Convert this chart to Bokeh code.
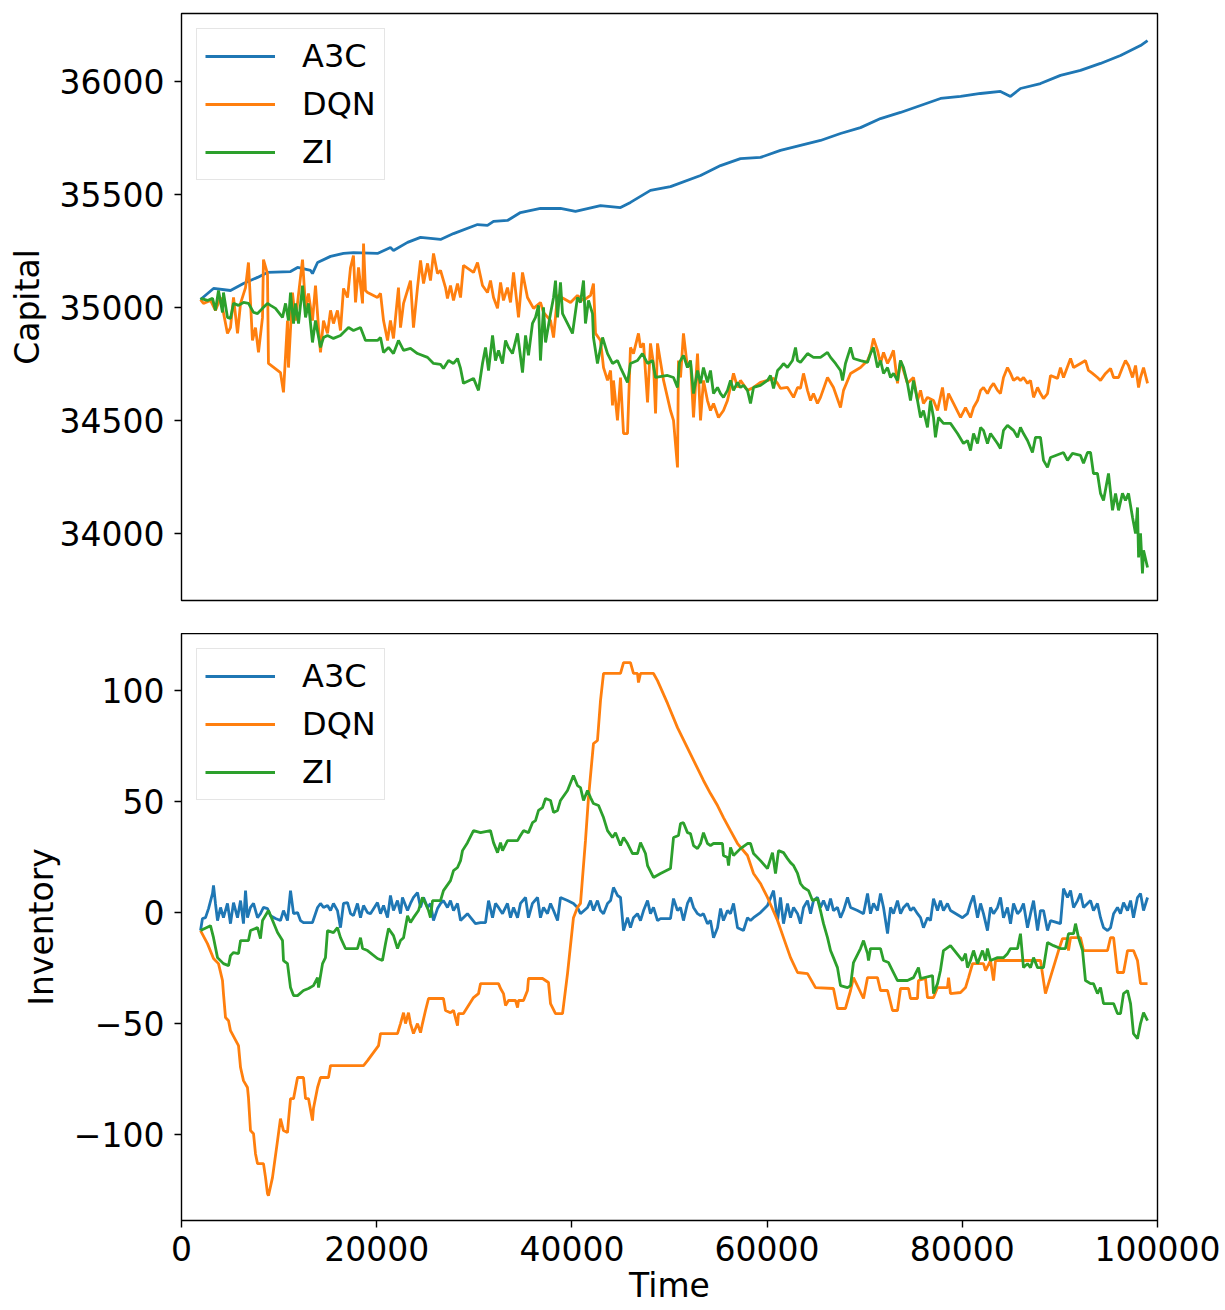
from bokeh.plotting import figure
from bokeh.layouts import column
from bokeh.models import FixedTicker, Range1d, Legend, LegendItem
from bokeh.embed import file_html
from bokeh.resources import INLINE

# ---------------- data (time, value) ----------------
series_names = ["A3C", "DQN", "ZI"]
series_colors = ["#1f77b4", "#ff7f0e", "#2ca02c"]

a3c_capital = [(1950,35035),(3280,35084),(5020,35075),(6350,35106),(7790,35133),(8810,35155),
    (11170,35159),(11890,35177),(13220,35164),(13420,35150),(13940,35199),(15270,35226),(16600,35239),
    (17620,35243),(20080,35239),(21410,35265),(21720,35252),(23160,35288),(24490,35310),(26540,35301),
    (27870,35327),(30330,35367),(31350,35363),(31970,35381),(33400,35385),(34730,35420),(36780,35438),
    (38830,35438),(40370,35425),(42930,35451),(44980,35442),(46000,35465),(48050,35518),(50100,35535),
    (53180,35584),(55230,35628),(57270,35659),(59320,35664),(61370,35695),(63420,35717),(65470,35739),
    (67520,35770),(69570,35796),(71620,35836),(73670,35863),(75720,35894),(77770,35925),(79820,35934),
    (81870,35947),(83910,35956),(84940,35934),(85960,35969),(88010,35991),(90060,36027),(92110,36049),
    (94160,36080),(96210,36115),(98260,36159),(98980,36181)]

dqn_capital = [(1950,35035),(2250,35018),(2970,35031),(3480,34987),(4000,35044),(4710,34885),(5020,34911),
    (5330,35044),(5740,34885),(6050,35018),(6560,35088),(6860,35199),(7270,34854),(7580,34911),(7890,34801),
    (8300,34956),(8400,35212),(8810,35150),(8910,34752),(10140,34712),(10450,34624),(10860,34942),(10960,34734),
    (11370,35066),(11680,34942),(12400,35212),(12710,35000),(13010,35062),(13420,34942),(13730,35097),
    (14040,34911),(14240,34801),(14550,34942),(14960,34885),(15270,34987),(15570,34929),(15980,34987),
    (16290,34898),(16600,35084),(17010,35044),(17320,35177),(17620,35230),(17830,35022),(18140,35177),
    (18550,35018),(18650,35283),(18850,35075),(19060,35066),(20080,35044),(20390,35062),(20700,34942),
    (21110,34854),(21410,34942),(21720,34863),(22230,35088),(22440,34911),(22750,35018),(23460,35119),
    (23770,34911),(24180,35088),(24490,35208),(24800,35106),(25210,35195),(25510,35119),(25820,35239),
    (26230,35150),(26540,35164),(27050,35088),(27250,35040),(27560,35097),(27870,35031),(28280,35106),
    (28590,35044),(28890,35186),(29920,35155),(30330,35199),(30840,35097),(31350,35066),(31660,35119),
    (31970,35044),(32380,34996),(32690,35111),(32990,35031),(33400,35088),(33710,35022),(34020,35155),
    (34530,34956),(34940,35155),(35450,35044),(36070,34996),(36780,35022),(37090,34978),(37810,34942),
    (38120,34867),(38530,35053),(39140,35040),(39860,35022),(40570,35053),(41190,35031),(41910,35053),
    (42210,35106),(42420,34885),(42930,34854),(43240,34734),(43650,34677),(43960,34721),(44160,34566),
    (44260,34677),(44670,34500),(44980,34690),(45290,34442),(45700,34442),(46000,34823),(46310,34796),
    (46820,34885),(47030,34823),(47340,34841),(47750,34580),(48050,34841),(48360,34752),(48570,34531),
    (48770,34841),(49390,34677),(50100,34544),(50410,34500),(50820,34292),(50920,34765),(51130,34690),
    (51430,34885),(51840,34734),(52150,34765),(52460,34513),(52870,34796),(53180,34500),(53480,34677),
    (53890,34588),(54200,34544),(54510,34575),(55020,34513),(55530,34544),(55940,34588),(56560,34708),
    (56970,34646),(57270,34677),(57990,34633),(58610,34646),(59320,34668),(60040,34677),(60660,34686),
    (61070,34664),(61370,34642),(62090,34646),(62710,34602),(63120,34646),(63420,34642),(63730,34708),
    (64140,34633),(64450,34588),(64750,34619),(65160,34575),(65470,34602),(66190,34690),(66800,34646),
    (67520,34557),(67830,34633),(68550,34708),(69570,34734),(70290,34765),(70590,34796),(70900,34863),
    (71310,34810),(71620,34752),(71930,34801),(72340,34752),(72650,34779),(72950,34810),(73360,34664),
    (73670,34765),(74380,34664),(75000,34690),(75410,34588),(75720,34633),(76020,34575),(76430,34602),
    (77050,34588),(77460,34544),(77970,34646),(78280,34544),(78590,34619),(79100,34575),(79820,34513),
    (80330,34557),(80840,34513),(81150,34557),(81560,34588),(81870,34633),(82170,34646),(82580,34619),
    (82890,34646),(83200,34664),(83610,34633),(83910,34619),(84220,34690),(84630,34734),(84940,34708),
    (85250,34677),(85660,34690),(85960,34677),(86270,34690),(86680,34664),(86990,34677),(87300,34602),
    (87710,34646),(88010,34619),(88320,34597),(88730,34619),(89040,34699),(89760,34686),(90060,34734),
    (90370,34690),(91090,34774),(91400,34734),(92110,34752),(92620,34765),(92930,34721),(93340,34708),
    (93850,34690),(94160,34677),(94680,34708),(95190,34730),(95500,34690),(96010,34690),(96410,34734),
    (96720,34765),(97030,34743),(97440,34690),(97750,34743),(98060,34646),(98260,34690),(98570,34734),
    (98980,34664)]

zi_capital = [(1950,35040),(2660,35031),(3180,35040),(3480,34987),(3790,35075),(4200,34978),(4300,35066),
    (4710,34956),(5020,34951),(5330,35018),(5840,35009),(6350,35022),(6860,35018),(7380,34978),(7790,34973),
    (8300,34996),(8810,35018),(9120,35009),(9630,34996),(10350,34956),(10660,35018),(10960,34942),
    (11170,35066),(11480,34929),(11680,35018),(11990,34929),(12400,35097),(12710,34956),(13010,35018),
    (13420,34845),(13730,34942),(14240,34823),(14550,34867),(14960,34876),(15570,34863),(16290,34876),
    (17110,34911),(17620,34898),(18340,34911),(18850,34854),(20080,34854),(20390,34867),(20700,34801),
    (21210,34823),(21720,34796),(22230,34854),(22750,34810),(23460,34819),(24180,34796),(25210,34779),
    (25820,34752),(26540,34748),(26840,34730),(27360,34765),(27870,34752),(28280,34774),(28590,34730),
    (28890,34664),(29920,34686),(30430,34633),(30840,34752),(31150,34823),(31460,34721),(31870,34876),
    (32170,34765),(32480,34810),(32890,34752),(33200,34854),(33500,34823),(33910,34796),(34430,34885),
    (34940,34712),(35250,34876),(35550,34788),(35960,34929),(36270,34956),(36580,35009),(36780,34765),
    (37090,35000),(37300,34845),(37810,34973),(38120,35044),(38320,35119),(38530,34956),(38830,35111),
    (39040,34973),(40060,34885),(40570,35044),(40880,35022),(41190,35119),(41390,34929),(41700,35031),
    (42110,34973),(42210,34867),(42620,34752),(43140,34867),(43650,34796),(44160,34752),(44670,34765),
    (44980,34734),(45700,34668),(46000,34752),(46720,34765),(47230,34796),(47750,34752),(48260,34765),
    (48570,34690),(49800,34699),(50410,34690),(50820,34646),(51020,34757),(51430,34788),(51840,34734),
    (52150,34765),(52460,34619),(52870,34721),(53180,34664),(53480,34734),(53890,34668),(54200,34721),
    (54510,34619),(54920,34646),(55230,34619),(55530,34602),(55940,34633),(56250,34677),(56560,34633),
    (56970,34668),(57270,34646),(57580,34655),(57990,34633),(58300,34575),(58610,34646),(59320,34655),
    (60040,34677),(60350,34699),(60660,34642),(61070,34721),(61370,34734),(61680,34752),(62090,34734),
    (62600,34765),(62910,34823),(63120,34765),(63420,34757),(64140,34796),(64750,34779),(65470,34779),
    (66190,34801),(66500,34779),(67010,34752),(67520,34721),(67730,34677),(68030,34752),(68550,34823),
    (68850,34774),(69570,34765),(70290,34757),(70590,34796),(70900,34823),(71310,34734),(71620,34765),
    (71930,34708),(72340,34734),(72650,34690),(72950,34708),(73360,34677),(73670,34765),(73980,34734),
    (74380,34664),(74690,34588),(75000,34677),(75410,34588),(75720,34513),(76020,34544),(76430,34469),
    (76740,34588),(77050,34513),(77250,34425),(77560,34513),(78070,34487),(78790,34487),(79510,34442),
    (80120,34398),(80530,34411),(80840,34367),(81150,34442),(81560,34398),(81870,34469),(82170,34456),
    (82580,34398),(82890,34442),(83610,34398),(83910,34376),(84220,34456),(84630,34478),(85250,34456),
    (85660,34425),(85960,34469),(86270,34442),(86680,34411),(87190,34358),(87500,34425),(88010,34425),
    (88320,34323),(88730,34292),(89040,34336),(90370,34358),(90780,34323),(91290,34354),(92110,34345),
    (92420,34310),(92830,34358),(93140,34358),(93440,34265),(93850,34265),(94160,34177),(94470,34146),
    (94980,34265),(95390,34102),(95700,34177),(96010,34102),(96410,34177),(96720,34146),(97030,34177),
    (97440,34071),(97750,34000),(97950,34115),(98060,33894),(98260,34000),(98460,33823),(98570,33925),
    (98980,33849)]

a3c_inventory = [(1950,-8.1),(2150,-2.7),(2460,-2.3),(2770,1.8),(3180,8.6),(3280,12.2),(3480,4.1),(3690,-3.6),
    (4000,2.3),(4300,-2.3),(4710,4.1),(5020,-5.0),(5330,4.5),(5740,-2.3),(6050,5.4),(6350,-5.0),(6560,9.9),
    (6760,-2.3),(7070,2.3),(7380,4.1),(7790,-2.3),(8090,-0.5),(8400,2.3),(8810,1.8),(9120,-1.4),(9630,-2.7),
    (10140,-3.6),(10450,0.9),(10860,-3.6),(11170,9.9),(11480,-0.5),(11890,0.0),(12190,-3.6),(12500,-4.5),
    (13420,-4.5),(13940,2.3),(14240,4.1),(14550,2.3),(14960,3.2),(15270,0.9),(15570,4.1),(15980,0.9),
    (16290,-6.8),(16600,4.1),(17010,4.5),(17320,-0.5),(17620,-1.4),(18030,4.1),(18340,-2.3),(18650,3.2),
    (19060,0.0),(19360,-0.5),(20080,4.5),(20390,-0.5),(20700,3.2),(21110,-2.3),(21410,7.7),(21720,0.9),
    (22130,5.4),(22440,-0.5),(22640,6.8),(23160,0.9),(23460,4.1),(23770,6.8),(24180,9.0),(24490,2.3),
    (24800,6.8),(25210,2.3),(25510,4.1),(25820,-3.6),(26230,1.8),(26540,4.1),(26840,5.4),(27250,2.3),
    (27560,5.4),(27870,0.9),(28280,4.1),(28590,-3.6),(29300,-0.5),(30120,-5.0),(30640,-4.5),(31150,-4.5),
    (31460,5.4),(31870,-2.3),(32170,4.1),(32480,2.3),(32890,-0.5),(33400,4.1),(33710,-2.3),(34020,2.3),
    (34430,-2.3),(34730,4.1),(35250,6.8),(35550,-2.3),(35960,4.1),(36480,6.8),(36780,-2.3),(37090,2.3),
    (37500,-0.5),(37810,4.1),(38120,0.9),(38530,-3.6),(38830,6.8),(39550,5.4),(40160,4.1),(40570,2.3),
    (40880,-0.5),(41600,2.3),(41910,5.4),(42210,0.9),(42620,5.4),(42930,0.9),(43240,-0.5),(43650,4.1),
    (43960,5.4),(44260,11.3),(44670,7.7),(44980,6.8),(45290,-8.1),(45700,-2.3),(46000,-6.8),(46310,-2.3),
    (46720,-0.5),(47030,-3.6),(47340,0.9),(47750,5.4),(48050,-0.5),(48360,2.3),(48770,-3.6),(49080,-2.7),
    (50100,-2.7),(50410,6.3),(50820,0.9),(51130,2.3),(51430,-3.6),(51840,4.1),(52150,6.8),(52460,2.3),
    (52870,-0.5),(53180,-1.4),(53480,-0.5),(53890,-5.0),(54200,-3.6),(54510,-11.3),(54920,-6.8),(55230,1.8),
    (55530,-3.6),(55940,0.9),(56250,-0.5),(56560,4.1),(56970,-6.8),(57580,-8.1),(57990,-2.3),(58300,-3.6),
    (58610,-2.3),(59320,0.0),(60040,3.2),(60660,9.9),(61070,-3.6),(61370,6.8),(61680,-5.0),(62090,4.1),
    (62400,-2.3),(62710,2.3),(63120,-0.5),(63420,-5.0),(63730,2.3),(64140,5.4),(64450,-0.5),(64750,5.4),
    (65160,6.8),(65470,2.3),(65780,5.4),(66190,0.9),(66500,6.3),(66800,0.9),(67210,2.3),(67520,-2.3),
    (67830,0.9),(68240,6.8),(68550,2.3),(69260,0.9),(69880,-0.5),(70290,8.6),(70590,-0.5),(70900,4.1),
    (71310,0.9),(71620,8.6),(71930,2.3),(72340,-9.5),(72650,2.3),(72950,-0.5),(73360,5.4),(73670,-0.5),
    (73980,2.3),(74380,4.1),(74690,0.9),(75000,2.3),(75410,-0.5),(75720,-2.3),(76020,-6.8),(76430,-2.3),
    (76740,-3.6),(77050,6.3),(77460,0.9),(77760,5.4),(78070,0.9),(78480,4.1),(78790,0.9),(80020,-2.3),
    (80530,-0.5),(80840,4.1),(81150,7.7),(81560,-2.3),(81870,4.1),(82170,-0.5),(82580,-8.1),(82890,2.3),
    (83200,-0.5),(83610,2.3),(83910,6.8),(84220,-2.3),(84630,2.3),(84940,-5.0),(85250,4.1),(85660,-0.5),
    (85960,0.9),(86270,4.1),(86680,-6.8),(86990,-0.5),(87300,5.4),(87710,-8.1),(88010,0.9),(88320,0.9),
    (88730,-8.1),(89040,-3.6),(90060,-5.0),(90370,10.8),(90780,6.8),(91090,9.9),(91400,2.3),(91810,5.4),
    (92110,8.6),(92420,2.3),(92830,4.1),(93140,5.4),(93440,0.9),(93850,4.1),(94160,-2.3),(94470,-6.8),
    (94880,-8.1),(95190,-6.8),(95500,-0.5),(95900,2.3),(96210,-0.5),(96520,4.5),(96930,0.9),(97240,5.4),
    (97540,-2.3),(97950,6.8),(98260,8.6),(98570,0.9),(98980,6.8)]

dqn_inventory = [(1950,-8.1),(2660,-14.0),(3280,-20.7),(3790,-23.0),(4200,-30.6),(4300,-36.5),(4510,-47.3),
    (4820,-48.7),(5020,-53.2),(5840,-59.9),(6050,-69.8),(6350,-75.7),(6760,-78.8),(6860,-83.3),(7070,-98.2),
    (7380,-99.6),(7580,-108.6),(7790,-113.1),(8400,-113.1),(8610,-119.4),(8810,-126.6),(8910,-127.5),
    (9320,-119.4),(9840,-102.7),(10140,-92.8),(10450,-98.2),(10860,-99.1),(10960,-93.7),(11170,-83.8),
    (11480,-83.8),(11890,-74.3),(12500,-74.3),(12710,-83.8),(13010,-83.8),(13420,-93.7),(13520,-88.3),
    (13940,-78.8),(14240,-74.3),(15060,-74.3),(15270,-68.9),(18650,-68.9),(19060,-66.7),(20190,-59.9),
    (20390,-54.5),(22130,-54.5),(22440,-50.0),(22750,-45.1),(22950,-50.0),(23260,-45.1),(23460,-50.0),
    (23770,-54.5),(24180,-50.0),(24490,-54.1),(24690,-50.0),(25000,-44.1),(25310,-38.7),(26840,-38.7),
    (27050,-44.1),(27560,-45.1),(27870,-44.1),(28280,-50.9),(28380,-45.5),(28890,-45.5),(29920,-38.3),
    (30430,-36.5),(30640,-32.0),(32480,-32.0),(32690,-34.2),(32990,-36.5),(33200,-41.9),(33500,-39.6),
    (34220,-39.6),(34430,-42.8),(34530,-39.6),(35040,-39.6),(35450,-35.1),(35550,-29.7),(36990,-29.7),
    (37600,-31.5),(37810,-41.0),(38320,-45.5),(39040,-45.5),(39550,-27.5),(40160,-2.3),(40570,2.3),
    (40880,4.1),(41390,32.4),(41700,51.8),(42210,76.1),(42620,77.5),(42930,95.5),(43240,107.7),(44980,107.7),
    (45290,112.6),(46000,112.6),(46310,107.7),(46720,107.7),(46820,103.6),(47030,107.7),(48360,107.7),
    (48770,104.5),(49800,94.2),(50820,83.3),(53480,59.5),(54200,53.6),(54920,48.2),(55530,42.8),
    (56250,36.9),(56970,31.1),(57990,25.7),(58610,17.6),(59320,13.1),(60040,6.8),(61070,-3.6),(61680,-11.3),
    (62400,-20.3),(63120,-27.0),(64140,-27.5),(64960,-33.8),(66800,-34.2),(67210,-43.2),(68030,-43.2),
    (68550,-35.1),(68850,-29.3),(69880,-38.7),(70290,-29.3),(71310,-29.3),(71620,-35.1),(72340,-35.1),
    (72850,-44.1),(73360,-44.1),(73670,-34.2),(74490,-34.2),(74690,-38.7),(75410,-38.7),(75510,-30.6),
    (76230,-29.7),(76430,-38.3),(77050,-38.3),(77460,-33.8),(78480,-33.8),(78590,-29.3),(78790,-36.5),
    (79820,-36.0),(80330,-33.8),(80640,-29.3),(81050,-23.0),(82170,-23.0),(82380,-26.1),(82890,-21.6),
    (83200,-30.6),(83400,-21.6),(88010,-21.6),(88520,-36.5),(89860,-17.1),(90270,-11.7),(90780,-11.7),
    (90880,-17.1),(91090,-11.3),(92110,-11.3),(92420,-17.1),(94880,-17.1),(95190,-11.3),(95500,-11.3),
    (95900,-27.0),(96520,-27.0),(96930,-17.1),(97540,-17.1),(97950,-21.6),(98260,-32.0),(98980,-32.0)]

zi_inventory = [(1950,-8.1),(2970,-5.9),(3280,-11.3),(3690,-20.3),(4300,-23.0),(4820,-23.9),(5020,-19.4),
    (5330,-18.0),(5840,-18.5),(6050,-12.6),(6860,-12.6),(7070,-8.1),(7790,-6.8),(8090,-11.7),(8300,-3.6),
    (8910,0.9),(9840,-9.0),(10350,-12.6),(10450,-21.6),(10860,-23.0),(11170,-33.8),(11480,-37.4),
    (11890,-37.4),(12500,-35.1),(13010,-34.2),(13520,-32.9),(13940,-29.3),(14040,-33.8),(14450,-23.0),
    (14750,-20.3),(14960,-8.1),(15570,-9.0),(15980,-6.8),(16290,-11.3),(16800,-16.2),(18030,-16.2),
    (18340,-11.3),(18550,-16.2),(19060,-17.1),(20080,-20.7),(20590,-21.6),(20900,-14.0),(21210,-7.2),
    (21720,-10.4),(22130,-16.2),(22440,-12.6),(22750,-11.3),(23160,-1.4),(23460,-4.5),(23770,-2.3),
    (24280,0.9),(24690,6.8),(25000,4.1),(25310,0.9),(25510,-2.3),(25720,5.4),(26540,5.4),(26840,9.9),
    (27560,14.4),(27870,18.9),(28280,20.3),(28590,23.4),(28790,27.9),(29300,31.5),(29920,36.9),(30640,36.0),
    (31660,36.9),(31970,31.5),(32380,27.0),(32690,31.5),(32890,27.9),(33400,32.4),(34430,32.4),(34730,34.7),
    (35040,36.9),(35550,36.0),(35960,40.5),(36270,41.4),(36580,46.0),(36990,47.3),(37300,51.4),(37810,50.5),
    (38120,45.1),(38530,46.0),(38830,50.5),(39550,55.0),(40160,61.7),(40570,57.2),(40880,56.3),(41190,50.5),
    (41600,55.0),(41910,51.8),(42210,49.1),(42730,48.2),(43240,42.8),(43650,36.9),(44160,33.8),(44470,36.0),
    (44980,30.2),(45290,33.8),(45700,31.1),(46210,26.6),(46720,26.6),(47030,31.5),(47540,26.6),(47750,21.2),
    (48360,15.8),(49080,17.6),(50100,19.8),(50410,33.8),(50920,34.7),(51130,40.1),(51430,40.5),(51840,36.0),
    (52150,35.6),(52460,30.2),(52870,28.8),(53180,31.1),(53480,36.0),(53890,31.1),(54200,30.2),(54510,31.1),
    (55430,31.1),(55530,25.7),(55940,24.8),(56050,21.2),(56250,29.3),(56560,25.7),(57270,28.8),(57990,31.1),
    (58300,31.1),(58610,26.6),(59320,23.4),(60040,19.8),(60550,27.0),(60860,17.6),(61170,27.9),(61680,27.0),
    (62090,24.3),(62400,22.5),(62710,21.2),(63120,17.6),(63420,13.1),(63730,11.3),(64240,9.9),(64650,5.4),
    (65160,6.3),(65470,0.9),(65780,-5.0),(66190,-11.3),(66500,-17.1),(66800,-20.3),(67210,-24.8),
    (67520,-32.9),(68240,-33.8),(68550,-32.9),(68850,-22.5),(69570,-16.2),(69880,-12.6),(70290,-18.5),
    (70390,-21.6),(70590,-16.2),(71620,-16.2),(71930,-21.6),(72440,-22.5),(72950,-27.0),(73360,-30.6),
    (74380,-30.6),(75000,-29.3),(75510,-24.8),(75720,-29.7),(76950,-28.4),(77050,-36.5),(77460,-32.0),
    (77760,-26.1),(78070,-17.1),(78790,-14.9),(80020,-21.6),(80330,-18.5),(80530,-24.8),(80840,-21.6),
    (81150,-17.1),(81560,-23.0),(82070,-17.1),(82380,-21.6),(82580,-16.2),(82890,-21.6),(83610,-20.3),
    (84220,-20.3),(84630,-18.5),(84940,-16.2),(85660,-16.2),(85960,-9.5),(86270,-24.8),(86680,-23.0),
    (86990,-24.8),(87300,-20.3),(87710,-24.8),(88320,-24.8),(88730,-13.5),(89350,-14.9),(90060,-16.2),
    (90570,-16.2),(90880,-9.5),(91400,-9.5),(91600,-5.0),(91910,-11.3),(92320,-17.1),(92620,-30.6),
    (93140,-32.0),(93440,-32.0),(93850,-36.5),(94160,-33.8),(94470,-41.0),(95500,-41.0),(95900,-45.5),
    (96210,-45.5),(96520,-36.5),(96930,-35.1),(97240,-41.0),(97540,-54.5),(97950,-56.8),(98260,-50.0),
    (98570,-45.1),(98980,-48.7)]

x_ticks = [0, 20000, 40000, 60000, 80000, 100000]
x_tick_labels = {0: "0", 20000: "20000", 40000: "40000", 60000: "60000", 80000: "80000", 100000: "100000"}
capital_ticks = [34000, 34500, 35000, 35500, 36000]
inventory_ticks = [-100, -50, 0, 50, 100]
inventory_tick_labels = {-100: "\u2212100", -50: "\u221250", 0: "0", 50: "50", 100: "100"}

FONT = "DejaVu Sans"
FS = "33px"

x_range = Range1d(0, 100000)


def style(p):
    p.outline_line_color = "black"
    p.outline_line_width = 1.4
    p.grid.visible = False
    p.background_fill_color = "white"
    p.border_fill_color = "white"
    for ax in p.axis:
        ax.axis_line_color = None
        ax.major_tick_line_color = "black"
        ax.major_tick_line_width = 1.4
        ax.major_tick_out = 7
        ax.major_tick_in = 0
        ax.minor_tick_line_color = None
        ax.major_label_text_font = FONT
        ax.major_label_text_font_size = FS
        ax.major_label_text_color = "black"
        ax.axis_label_text_font = FONT
        ax.axis_label_text_font_size = FS
        ax.axis_label_text_font_style = "normal"
        ax.axis_label_text_color = "black"


def add_lines(p, datasets):
    items = []
    for name, color, data in zip(series_names, series_colors, datasets):
        xs = [d[0] for d in data]
        ys = [d[1] for d in data]
        r = p.line(xs, ys, line_color=color, line_width=2.8)
        items.append(LegendItem(label=name, renderers=[r]))
    legend = Legend(items=items, location="top_left")
    legend.margin = 15
    legend.padding = 8
    legend.spacing = 10
    legend.glyph_width = 70
    legend.glyph_height = 32
    legend.label_height = 32
    legend.label_standoff = 27
    legend.label_text_font = FONT
    legend.label_text_font_size = "32px"
    legend.label_text_color = "black"
    legend.border_line_color = "#cccccc"
    legend.border_line_width = 1.5
    legend.background_fill_color = "white"
    legend.background_fill_alpha = 0.8
    p.add_layout(legend, "center")


p1 = figure(width=1225, height=633, x_range=x_range, y_range=Range1d(33703, 36301),
            output_backend="svg", toolbar_location=None, x_axis_location=None,
            min_border_left=181, min_border_right=68, min_border_top=13, min_border_bottom=33)
add_lines(p1, [a3c_capital, dqn_capital, zi_capital])
p1.yaxis.ticker = FixedTicker(ticks=capital_ticks)
p1.yaxis.axis_label = "Capital"
style(p1)
p1.yaxis.major_label_standoff = 10
p1.yaxis.axis_label_standoff = 10

p2 = figure(width=1225, height=677, x_range=x_range, y_range=Range1d(-138.7, 125.7),
            output_backend="svg", toolbar_location=None,
            min_border_left=181, min_border_right=68, min_border_top=0, min_border_bottom=90)
add_lines(p2, [a3c_inventory, dqn_inventory, zi_inventory])
p2.yaxis.ticker = FixedTicker(ticks=inventory_ticks)
p2.yaxis.major_label_overrides = inventory_tick_labels
p2.yaxis.axis_label = "Inventory"
p2.xaxis.ticker = FixedTicker(ticks=x_ticks)
p2.xaxis.major_label_overrides = x_tick_labels
p2.xaxis.axis_label = "Time"
style(p2)
p2.yaxis.major_label_standoff = 10
p2.yaxis.axis_label_standoff = 10
p2.xaxis.major_label_standoff = 8
p2.xaxis.axis_label_standoff = 2

layout = column(p1, p2, spacing=0)

with open("out.html", "w") as f:
    f.write(file_html(layout, INLINE))
